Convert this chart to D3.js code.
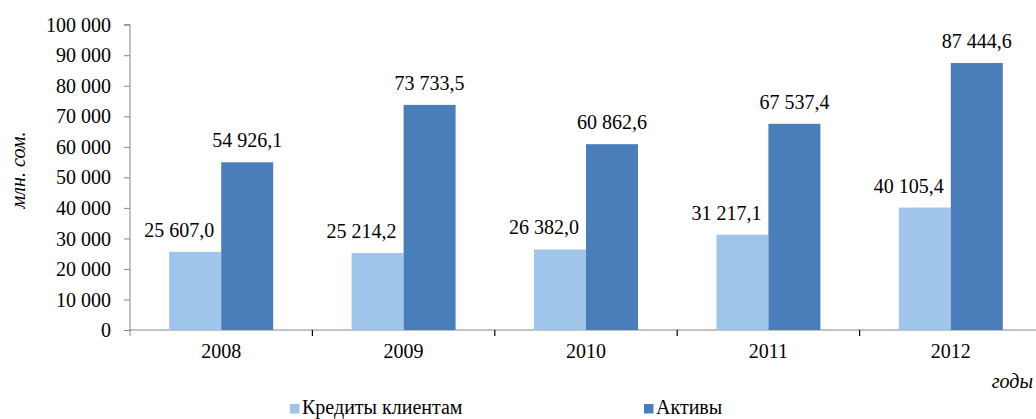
<!DOCTYPE html>
<html>
<head>
<meta charset="utf-8">
<script src="https://cdn.jsdelivr.net/npm/d3@7"></script>
<style>
  body { margin: 0; background: #fff; }
</style>
</head>
<body>
<main></main>
<script>
var years = ["2008", "2009", "2010", "2011", "2012"];
var seriesNames = ["Кредиты клиентам", "Активы"];
var credits = [25607.0, 25214.2, 26382.0, 31217.1, 40105.4];
var assets = [54926.1, 73733.5, 60862.6, 67537.4, 87444.6];
var yTicks = [0, 10000, 20000, 30000, 40000, 50000, 60000, 70000, 80000, 90000, 100000];
var colors = ["#9fc6ea", "#4a7ebb"];

var W = 1036, H = 419;
var left = 130, zeroY = 330, topY = 24.7;

var loc = d3.formatLocale({ decimal: ",", thousands: " ", grouping: [3], currency: ["", ""] });
var fmtTick = loc.format(",");
var fmtVal = loc.format(",.1f");

var svg = d3.select("main")
  .append("svg")
    .attr("width", W)
    .attr("height", H);

var x0 = d3.scaleBand().domain(years).range([left, left + 5 * 182.4]);
var x1 = d3.scaleBand().domain(seriesNames).range([0, x0.bandwidth()]).paddingOuter(0.754);
var y = d3.scaleLinear().domain([0, 100000]).range([zeroY, topY]);

// y axis
var yAxis = svg.append("g")
  .attr("transform", "translate(" + left + ",0)")
  .call(d3.axisLeft(y).tickValues(yTicks).tickFormat(fmtTick).tickSize(6).tickPadding(13));
yAxis.select(".domain").attr("stroke", "#868686").attr("d", "M-6," + topY + "H0V" + (zeroY + 6));
yAxis.selectAll(".tick line").attr("stroke", "#868686");
yAxis.selectAll(".tick text").attr("dy", "0.33em");

// x axis, ticks sit between the year groups
var xAxis = svg.append("g")
  .attr("transform", "translate(0," + zeroY + ")")
  .call(d3.axisBottom(x0).tickSize(0).tickPadding(12));
xAxis.select(".domain").attr("stroke", "#868686").attr("d", "M" + left + ",0H" + W);
xAxis.selectAll(".tick text").attr("dy", "0.8em");
xAxis.selectAll(".sep")
  .data(years.slice(1))
  .enter().append("line")
    .attr("class", "sep")
    .attr("x1", function(d) { return x0(d); })
    .attr("x2", function(d) { return x0(d); })
    .attr("y1", 0)
    .attr("y2", 6)
    .attr("stroke", "#000")
    .attr("stroke-width", 1.2);

// bars
var rows = years.map(function(yr, i) {
  return { year: yr, vals: [credits[i], assets[i]] };
});

var groups = svg.selectAll(".grp")
  .data(rows)
  .enter().append("g")
    .attr("class", "grp")
    .attr("transform", function(d) { return "translate(" + x0(d.year) + ",0)"; });

groups.selectAll("rect")
  .data(function(d) { return d.vals.map(function(v, j) { return { s: seriesNames[j], v: v, j: j }; }); })
  .enter().append("rect")
    .attr("x", function(d) { return x1(d.s); })
    .attr("y", function(d) { return y(d.v); })
    .attr("width", x1.bandwidth())
    .attr("height", function(d) { return zeroY - y(d.v); })
    .attr("fill", function(d) { return colors[d.j]; });

// value labels (light series labels nudged left as in the original)
groups.selectAll(".lbl")
  .data(function(d) { return d.vals.map(function(v, j) { return { s: seriesNames[j], v: v, j: j }; }); })
  .enter().append("text")
    .attr("class", "lbl")
    .attr("x", function(d) { return x1(d.s) + x1.bandwidth() / 2 + (d.j === 0 ? -16 : 0); })
    .attr("y", function(d) { return y(d.v) - 15; })
    .attr("text-anchor", "middle")
    .text(function(d) { return fmtVal(d.v); });

// axis titles
svg.append("text")
  .attr("transform", "translate(25,170) rotate(-90)")
  .attr("text-anchor", "middle")
  .attr("class", "it")
  .text("млн. сом.");

svg.append("text")
  .attr("x", 1033)
  .attr("y", 388)
  .attr("text-anchor", "end")
  .attr("class", "it")
  .text("годы");

// legend
var legX = [290, 644];
var legend = svg.selectAll(".leg")
  .data(seriesNames)
  .enter().append("g")
    .attr("class", "leg")
    .attr("transform", function(d, i) { return "translate(" + legX[i] + ",404)"; });
legend.append("rect")
  .attr("width", 9.5)
  .attr("height", 9.5)
  .attr("fill", function(d, i) { return colors[i]; });
legend.append("text")
  .attr("x", 12)
  .attr("y", 10)
  .text(function(d) { return d; });

// one font for every text
svg.selectAll("text").each(function() {
  this.setAttribute("style", "font-family: 'Liberation Serif', serif; font-size: 20px; fill: #000;" +
    (this.getAttribute("class") === "it" ? " font-style: italic;" : ""));
});
</script>
</body>
</html>
